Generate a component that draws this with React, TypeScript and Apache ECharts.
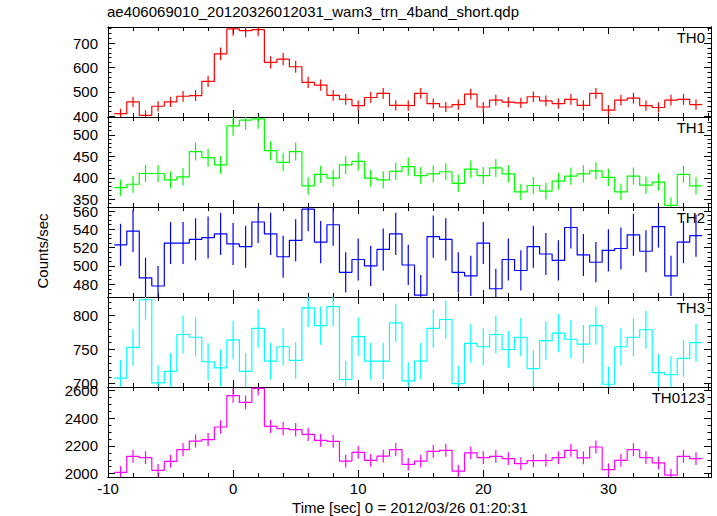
import React, { useEffect, useRef } from "react";
import * as echarts from "echarts";

const TITLE = "ae406069010_20120326012031_wam3_trn_4band_short.qdp";
const X_LABEL = "Time [sec] 0 = 2012/03/26 01:20:31";
const Y_LABEL = "Counts/sec";

const binTimes = [
  -9, -8, -7, -6, -5, -4, -3, -2, -1, 0, 1, 2, 3, 4, 5, 6, 7, 8, 9, 10, 11, 12, 13, 14,
  15, 16, 17, 18, 19, 20, 21, 22, 23, 24, 25, 26, 27, 28, 29, 30, 31, 32, 33, 34, 35, 36, 37,
];

const panelNames = ["TH0", "TH1", "TH2", "TH3", "TH0123"];
const panelColors = ["#ff0000", "#00ff00", "#0000ff", "#00ffff", "#ff00ff"];

const th0 = [411, 459, 404, 441, 459, 482, 485, 543, 656, 758, 751, 755, 621, 634, 603, 539, 528, 486, 469, 444, 477, 494, 445, 444, 494, 452, 438, 448, 491, 438, 466, 458, 455, 480, 463, 452, 469, 445, 494, 425, 466, 474, 444, 436, 466, 469, 448];
const th0Err = [20, 21, 20, 21, 21, 22, 22, 23, 26, 28, 27, 27, 25, 25, 25, 23, 23, 22, 22, 21, 22, 22, 21, 21, 22, 21, 21, 21, 22, 21, 22, 21, 21, 22, 22, 21, 22, 21, 22, 21, 22, 22, 21, 21, 22, 22, 21];

const th1 = [377, 385, 410, 410, 395, 402, 461, 447, 430, 521, 534, 537, 463, 436, 461, 381, 408, 399, 430, 438, 399, 395, 415, 426, 405, 409, 414, 387, 420, 405, 423, 409, 367, 382, 369, 392, 404, 409, 416, 401, 367, 404, 383, 390, 336, 408, 381];
const th1Err = [19, 20, 20, 20, 20, 20, 21, 21, 21, 23, 23, 23, 22, 21, 21, 20, 20, 20, 21, 21, 20, 20, 20, 21, 20, 20, 20, 20, 20, 20, 21, 20, 19, 20, 19, 20, 20, 20, 20, 20, 19, 20, 20, 20, 18, 20, 20];

const th2 = [523, 538, 487, 478, 525, 525, 529, 531, 535, 524, 521, 548, 535, 510, 528, 562, 526, 545, 493, 507, 500, 518, 535, 501, 468, 532, 529, 493, 489, 525, 475, 507, 495, 521, 513, 506, 542, 512, 504, 517, 519, 534, 516, 543, 489, 526, 533];
const th2Err = [23, 23, 22, 22, 23, 23, 23, 23, 23, 23, 23, 23, 23, 23, 23, 24, 23, 23, 22, 23, 22, 23, 23, 22, 22, 23, 23, 22, 22, 23, 22, 23, 22, 23, 23, 22, 23, 23, 22, 23, 23, 23, 23, 23, 22, 23, 23];

const th3 = [708, 753, 823, 701, 718, 772, 768, 732, 723, 764, 718, 781, 733, 754, 734, 811, 785, 813, 706, 769, 733, 733, 789, 704, 733, 781, 794, 700, 759, 754, 772, 750, 768, 722, 763, 774, 765, 758, 785, 699, 754, 768, 779, 716, 713, 737, 760];
const th3Err = [27, 27, 29, 26, 27, 28, 28, 27, 27, 28, 27, 28, 27, 27, 27, 28, 28, 29, 27, 28, 27, 27, 28, 27, 27, 28, 28, 26, 28, 27, 28, 27, 28, 27, 28, 28, 28, 28, 28, 26, 27, 28, 28, 27, 27, 27, 28];

const th0123 = [2010, 2125, 2116, 2024, 2089, 2173, 2235, 2245, 2336, 2562, 2513, 2614, 2341, 2324, 2317, 2283, 2240, 2233, 2091, 2154, 2096, 2127, 2173, 2067, 2091, 2161, 2168, 2019, 2149, 2116, 2125, 2108, 2072, 2094, 2096, 2116, 2168, 2113, 2192, 2029, 2096, 2173, 2116, 2077, 1990, 2125, 2108];
const th0123Err = [45, 46, 46, 45, 46, 47, 47, 47, 48, 51, 50, 51, 48, 48, 48, 48, 47, 47, 46, 46, 46, 46, 47, 45, 46, 46, 47, 45, 46, 46, 46, 46, 46, 46, 46, 46, 47, 46, 47, 45, 46, 47, 46, 46, 45, 46, 46];

const panelValues = [th0, th1, th2, th3, th0123];
const panelErrors = [th0Err, th1Err, th2Err, th3Err, th0123Err];

const yMins = [397, 332, 466, 695, 1976];
const yMaxs = [766, 541.5, 564.4, 827, 2624];
const yMajorSteps = [100, 50, 20, 50, 200];
const yMinorSteps = [20, 10, 5, 10, 50];

const X_MIN = -10;
const X_MAX = 38.2;
const X_MAJOR = 10;
const X_MINOR = 2;
const BIN_HALF = 0.5;

const FONT = "Liberation Sans, Arial, Helvetica, sans-serif";

export default function App() {
  const ref = useRef<HTMLDivElement>(null);

  useEffect(() => {
    if (!ref.current) return;
    const chart = echarts.init(ref.current, null, { renderer: "svg" });

    const PANEL_TOP = 27;
    const PANEL_H = 90;
    const LEFT = 108;
    const RIGHT = 6;

    const grids: any[] = [];
    const xAxes: any[] = [];
    const yAxes: any[] = [];
    const series: any[] = [];
    const graphics: any[] = [];

    panelNames.forEach((name, i) => {
      grids.push({ left: LEFT, right: RIGHT, top: PANEL_TOP + PANEL_H * i, height: PANEL_H });
      const isLast = i === panelNames.length - 1;

      const xAxis = (position: string, step: number, tickLen: number, labels: boolean) => ({
        type: "value",
        gridIndex: i,
        position,
        min: X_MIN,
        max: X_MAX,
        minInterval: step,
        maxInterval: step,
        splitNumber: Math.round((X_MAX - X_MIN) / step),
        axisLine: { show: true, onZero: false, lineStyle: { color: "#000", width: 1 } },
        axisTick: { show: true, inside: true, length: tickLen, lineStyle: { color: "#000" } },
        splitLine: { show: false },
        axisLabel: labels
          ? {
              show: true,
              color: "#000",
              fontFamily: FONT,
              fontSize: 15,
              margin: 4,
              showMinLabel: true,
              showMaxLabel: false,
              formatter: (v: number) => String(v),
            }
          : { show: false },
      });
      const xBase = xAxes.length;
      xAxes.push(xAxis("bottom", X_MAJOR, 7, isLast));
      xAxes.push(xAxis("bottom", X_MINOR, 4, false));
      xAxes.push(xAxis("top", X_MAJOR, 7, false));
      xAxes.push(xAxis("top", X_MINOR, 4, false));

      const yAxis = (position: string, step: number, tickLen: number, labels: boolean) => ({
        type: "value",
        gridIndex: i,
        position,
        min: yMins[i],
        max: yMaxs[i],
        minInterval: step,
        maxInterval: step,
        splitNumber: Math.max(1, Math.round((yMaxs[i] - yMins[i]) / step)),
        axisLine: { show: true, onZero: false, lineStyle: { color: "#000", width: 1 } },
        axisTick: { show: true, inside: true, length: tickLen, lineStyle: { color: "#000" } },
        splitLine: { show: false },
        axisLabel: labels
          ? {
              show: true,
              color: "#000",
              fontFamily: FONT,
              fontSize: 15,
              margin: 10,
              showMinLabel: false,
              showMaxLabel: false,
              formatter: (v: number) => String(v),
            }
          : { show: false },
      });
      const yBase = yAxes.length;
      yAxes.push(yAxis("left", yMajorSteps[i], 7, true));
      yAxes.push(yAxis("left", yMinorSteps[i], 3.5, false));
      yAxes.push(yAxis("right", yMajorSteps[i], 7, false));
      yAxes.push(yAxis("right", yMinorSteps[i], 3.5, false));

      const vals = panelValues[i];
      const errs = panelErrors[i];
      const stepData: number[][] = [];
      binTimes.forEach((t, k) => {
        stepData.push([t - BIN_HALF, vals[k]]);
        stepData.push([t + BIN_HALF, vals[k]]);
      });
      series.push({
        type: "line",
        xAxisIndex: xBase,
        yAxisIndex: yBase,
        data: stepData,
        showSymbol: false,
        symbol: "none",
        lineStyle: { color: panelColors[i], width: 1.2 },
        clip: true,
        silent: true,
      });
      series.push({
        type: "custom",
        xAxisIndex: xBase,
        yAxisIndex: yBase,
        clip: true,
        silent: true,
        data: binTimes.map((t, k) => [t, vals[k], errs[k]]),
        renderItem: (params: any, api: any) => {
          const x = api.value(0);
          const v = api.value(1);
          const e = api.value(2);
          const p1 = api.coord([x, v - e]);
          const p2 = api.coord([x, v + e]);
          return {
            type: "line",
            shape: { x1: p1[0], y1: p1[1], x2: p2[0], y2: p2[1] },
            style: { stroke: panelColors[i], lineWidth: 1.2 },
          };
        },
      });

      graphics.push({
        type: "text",
        right: 12,
        top: PANEL_TOP + PANEL_H * i + 3,
        style: { text: name, fill: "#000", font: `15px ${FONT}` },
      });
    });

    graphics.push({
      type: "text",
      left: 107,
      top: 4,
      style: { text: TITLE, fill: "#000", font: `15px ${FONT}` },
    });
    graphics.push({
      type: "text",
      x: 410,
      y: 507,
      style: { text: X_LABEL, fill: "#000", font: `15px ${FONT}`, align: "center", verticalAlign: "middle" },
    });
    graphics.push({
      type: "text",
      x: 42,
      y: 251,
      rotation: Math.PI / 2,
      style: { text: Y_LABEL, fill: "#000", font: `15px ${FONT}`, align: "center", verticalAlign: "middle" },
    });

    chart.setOption({
      animation: false,
      backgroundColor: "#fff",
      grid: grids,
      xAxis: xAxes,
      yAxis: yAxes,
      series,
      graphic: graphics,
    });

    return () => chart.dispose();
  }, []);

  return <div ref={ref} style={{ width: 717, height: 516, position: "absolute", left: 0, top: 0 }} />;
}
